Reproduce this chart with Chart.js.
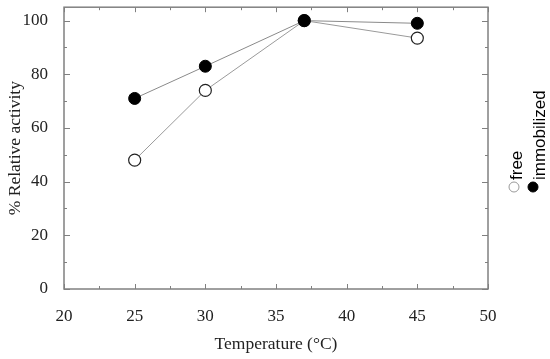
<!DOCTYPE html>
<html>
<head>
<meta charset="utf-8">
<script src="https://cdn.jsdelivr.net/npm/chart.js@4/dist/chart.umd.min.js"></script>
<style>
  html, body { margin: 0; padding: 0; background: #fff; }
  #wrap { width: 550px; height: 359px; }
</style>
</head>
<body>
<div id="wrap"><canvas id="tempChart"></canvas></div>
<script>
// temperature (°C) and % relative activity
const temperatures = [25, 30, 37, 45];
const freeActivity = [48, 74, 100, 93.5];
const immobilizedActivity = [71, 83, 100, 99];
const seriesLabels = ['free', 'immobilized'];

const xTickValues = [20, 25, 30, 35, 40, 45, 50];
const yTickValues = [0, 20, 40, 60, 80, 100];

const serif = '"Liberation Serif", "Times New Roman", serif';
const sans = '"Liberation Sans", Arial, sans-serif';

function toPoints(xs, ys) {
    return xs.map((x, i) => ({ x: x, y: ys[i] }));
}

// ticks pointing inward on all four sides, plus the grey frame
const frameTicks = {
    id: 'frameTicks',
    afterDraw(chart) {
        const { ctx, chartArea: a, scales } = chart;
        const xs = scales.x, ys = scales.y;
        ctx.save();
        ctx.strokeStyle = '#808080';
        ctx.lineWidth = 1;
        ctx.beginPath();
        for (let v = xs.min; v <= xs.max; v += 2.5) {
            const px = Math.round(xs.getPixelForValue(v)) + 0.5;
            const len = v % 5 === 0 ? 5 : 3;
            ctx.moveTo(px, a.bottom); ctx.lineTo(px, a.bottom - len);
            ctx.moveTo(px, a.top); ctx.lineTo(px, a.top + len);
        }
        for (let v = 0; v <= 100; v += 10) {
            const py = Math.round(ys.getPixelForValue(v)) + 0.5;
            const len = v % 20 === 0 ? 6 : 3;
            ctx.moveTo(a.left, py); ctx.lineTo(a.left + len, py);
            ctx.moveTo(a.right, py); ctx.lineTo(a.right - len, py);
        }
        ctx.stroke();
        ctx.lineWidth = 1.5;
        ctx.strokeRect(a.left, a.top, a.right - a.left, a.bottom - a.top);
        ctx.restore();
    }
};

// vertical legend on the right, text rotated
const sideLegend = {
    id: 'sideLegend',
    afterDraw(chart) {
        const { ctx } = chart;
        const markX = [514, 533];
        const textX = [522, 545];
        ctx.save();
        chart.data.datasets.forEach((ds, i) => {
            ctx.beginPath();
            ctx.arc(markX[i], 187, 5, 0, Math.PI * 2);
            ctx.fillStyle = ds.pointBackgroundColor;
            ctx.fill();
            ctx.strokeStyle = i === 0 ? '#999' : '#000';
            ctx.lineWidth = 1;
            ctx.stroke();

            ctx.save();
            ctx.translate(textX[i], 180);
            ctx.rotate(-Math.PI / 2);
            ctx.font = '17px ' + sans;
            ctx.fillStyle = '#000';
            ctx.textAlign = 'left';
            ctx.textBaseline = 'alphabetic';
            ctx.fillText(ds.label, 0, 0);
            ctx.restore();
        });
        ctx.restore();
    }
};

const chartCtx = document.getElementById('tempChart');

new Chart(chartCtx, {
    type: 'scatter',
    data: {
        datasets: [
            {
                label: seriesLabels[0],
                data: toPoints(temperatures, freeActivity),
                order: 1,
                showLine: true,
                borderColor: '#9a9a9a',
                borderWidth: 1,
                pointRadius: 6,
                pointHoverRadius: 6,
                pointBackgroundColor: '#ffffff',
                pointBorderColor: '#222',
                pointBorderWidth: 1.2
            },
            {
                label: seriesLabels[1],
                data: toPoints(temperatures, immobilizedActivity),
                order: 0,
                showLine: true,
                borderColor: '#8a8a8a',
                borderWidth: 1,
                pointRadius: 6,
                pointHoverRadius: 6,
                pointBackgroundColor: '#000000',
                pointBorderColor: '#000000',
                pointBorderWidth: 1
            }
        ]
    },
    options: {
        responsive: true,
        maintainAspectRatio: false,
        animation: false,
        devicePixelRatio: 1,
        layout: {
            padding: { top: 7, right: 62, left: 0, bottom: 0 }
        },
        plugins: {
            legend: { display: false },
            tooltip: { enabled: false }
        },
        scales: {
            x: {
                type: 'linear',
                min: 20,
                max: 50,
                grid: { display: false },
                border: { display: false },
                afterBuildTicks(scale) {
                    scale.ticks = xTickValues.map(v => ({ value: v }));
                },
                afterFit(scale) {
                    scale.height = 70;
                    scale.paddingLeft = 0;
                    scale.paddingRight = 0;
                },
                ticks: {
                    padding: 9,
                    color: '#222',
                    font: { family: serif, size: 17 }
                },
                title: {
                    display: true,
                    text: 'Temperature (°C)',
                    color: '#222',
                    font: { family: serif, size: 17.5 },
                    padding: { top: 0, bottom: 4 }
                }
            },
            y: {
                type: 'linear',
                min: 0,
                max: 105,
                grid: { display: false },
                border: { display: false },
                afterBuildTicks(scale) {
                    scale.ticks = yTickValues.map(v => ({ value: v }));
                },
                afterFit(scale) {
                    scale.width = 64;
                    scale.paddingTop = 0;
                    scale.paddingBottom = 0;
                },
                ticks: {
                    padding: 8,
                    color: '#222',
                    font: { family: serif, size: 17 }
                },
                title: {
                    display: true,
                    text: '% Relative activity',
                    color: '#222',
                    font: { family: serif, size: 17.5 },
                    padding: { top: 5, bottom: 0 }
                }
            }
        }
    },
    plugins: [frameTicks, sideLegend]
});
</script>
</body>
</html>
